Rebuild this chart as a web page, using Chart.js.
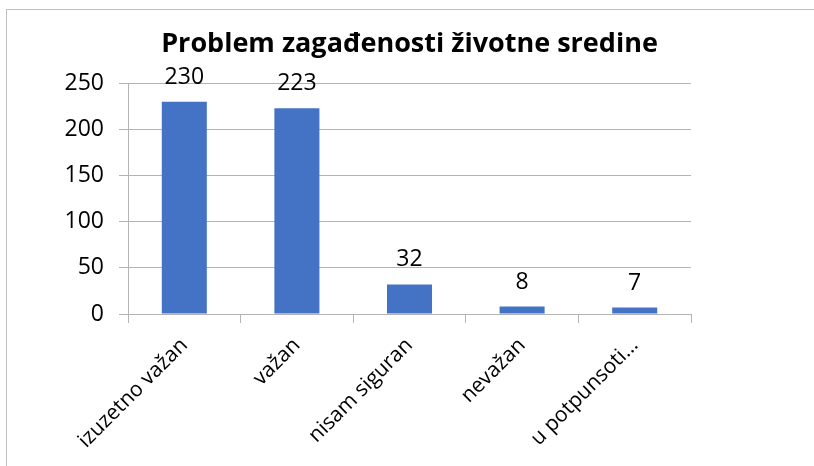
<!DOCTYPE html>
<html>
<head>
<meta charset="utf-8">
<script src="https://cdn.jsdelivr.net/npm/chart.js@4"></script>
<style>
  body { margin: 0; width: 814px; height: 466px; overflow: hidden; background: #fff; position: relative; }
  #frame { position: absolute; left: 6px; top: 9px; width: 900px; height: 500px; border: 1px solid #bfbfbf; }
  #wrap { position: absolute; left: 0; top: 0; width: 814px; height: 466px; }
</style>
</head>
<body>
<div id="frame"></div>
<div id="wrap"><canvas id="chart"></canvas></div>
<script>
const titleText = 'Problem zagađenosti životne sredine'
const categories = ['izuzetno važan', 'važan', 'nisam siguran', 'nevažan', 'u potpunsoti…']
const values = [230, 223, 32, 8, 7]
const yTicks = [0, 50, 100, 150, 200, 250]

const font = '"Open Sans", "Noto Sans", sans-serif'
const gridColor = '#b3b3b3'

// value labels above each bar
const barLabels = {
  id: 'barLabels',
  afterDatasetsDraw(chart) {
    const ctx = chart.ctx
    const meta = chart.getDatasetMeta(0)
    ctx.save()
    ctx.font = '23px ' + font
    ctx.fillStyle = '#000'
    ctx.textAlign = 'center'
    ctx.textBaseline = 'alphabetic'
    meta.data.forEach((bar, i) => {
      ctx.fillText(String(values[i]), bar.x, bar.y - 18)
    })
    ctx.restore()
  }
}

const ctx = document.querySelector('#chart')
new Chart(ctx, {
  type: 'bar',
  data: {
    labels: categories,
    datasets: [{
      data: values,
      backgroundColor: '#4472C4',
      borderWidth: 0,
      barPercentage: 0.4,
      categoryPercentage: 1
    }]
  },
  options: {
    responsive: true,
    maintainAspectRatio: false,
    animation: false,
    layout: { padding: { left: 0, right: 123, top: 0, bottom: 0 } },
    scales: {
      x: {
        grid: { display: true, drawOnChartArea: false, drawTicks: true, tickLength: 9, color: gridColor, offset: true },
        border: { display: true, color: gridColor },
        ticks: {
          minRotation: 45,
          maxRotation: 45,
          autoSkip: false,
          padding: 10,
          color: '#000',
          font: { family: font, size: 21 }
        },
        afterFit: (scale) => { scale.height = 152 }
      },
      y: {
        min: 0,
        max: 250,
        afterBuildTicks: (scale) => { scale.ticks = yTicks.map(v => ({ value: v })) },
        grid: { color: gridColor, tickLength: 9 },
        border: { display: true, color: gridColor },
        ticks: {
          padding: 15,
          color: '#000',
          font: { family: font, size: 23 }
        },
        afterFit: (scale) => { scale.width = 128 }
      }
    },
    plugins: {
      legend: false,
      tooltip: { enabled: false },
      title: {
        display: true,
        text: titleText,
        fullSize: false,
        color: '#000',
        font: { family: font, size: 27, weight: 'bold', lineHeight: 1.2 },
        padding: { top: 28, bottom: 23 }
      }
    }
  },
  plugins: [barLabels]
})
</script>
</body>
</html>
